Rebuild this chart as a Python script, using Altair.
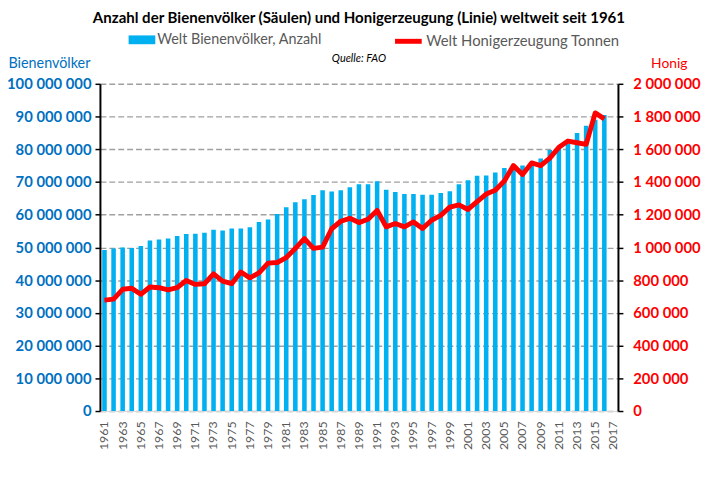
import altair as alt
import pandas as pd

years = list(range(1961, 2017))
all_years = list(range(1961, 2018))
tick_years = list(range(1961, 2018, 2))

colonies_mio = [49.2, 49.7, 50.0, 49.8, 50.4, 52.1, 52.4, 52.7, 53.5, 54.1,
                54.2, 54.5, 55.4, 55.2, 55.8, 55.8, 56.2, 57.8, 58.5, 60.2,
                62.3, 63.8, 64.7, 66.0, 67.5, 67.1, 67.5, 68.4, 69.3, 69.3,
                70.2, 67.6, 66.9, 66.3, 66.3, 66.1, 66.1, 66.6, 67.2, 69.3,
                70.5, 71.9, 72.0, 72.9, 74.3, 74.8, 75.0, 75.8, 77.2, 79.8,
                80.8, 81.8, 85.0, 87.2, 89.0, 90.5]

honey_kt = [678, 684, 744, 750, 714, 758, 754, 740, 754, 798,
            774, 778, 838, 794, 778, 850, 814, 844, 904, 908,
            938, 994, 1054, 994, 1002, 1114, 1160, 1178, 1152, 1172,
            1226, 1126, 1146, 1126, 1156, 1116, 1166, 1196, 1246, 1260,
            1232, 1280, 1326, 1350, 1406, 1500, 1446, 1516, 1500, 1546,
            1612, 1650, 1640, 1630, 1822, 1786]

bar_name = "Welt Bienenvölker, Anzahl"
line_name = "Welt Honigerzeugung Tonnen"

df = pd.DataFrame({
    "year": years,
    "colonies": [v * 1_000_000 for v in colonies_mio],
    "honey": [v * 1000 for v in honey_kt],
    "s1": bar_name,
    "s2": line_name,
})

FONT = "Lato"
BLUE = "#00B0F0"
AXBLUE = "#0070C0"
RED = "#FF0000"
GRAY = "#595959"
space_fmt = "replace(format(datum.value, ',d'), regexp(',', 'g'), ' ')"

x = alt.X("year:O",
          scale=alt.Scale(domain=all_years, paddingInner=0.5, paddingOuter=0.25),
          axis=alt.Axis(values=tick_years, labelAngle=-90, labelColor=GRAY,
                        labelFontSize=12.5, labelFont=FONT, ticks=False,
                        domainColor="#D9D9D9", domainWidth=1, labelPadding=10,
                        title=None, grid=False, labelBaseline="middle", labelAlign="right"))

bars = alt.Chart(df).mark_bar(size=4.6).encode(
    x=x,
    y=alt.Y("colonies:Q",
            scale=alt.Scale(domain=[0, 100_000_000], nice=False),
            axis=alt.Axis(values=[i * 10_000_000 for i in range(11)],
                          labelExpr=space_fmt, labelColor=AXBLUE, labelFont=FONT,
                          labelFontSize=15, labelFontWeight="bold", labelPadding=4,
                          domainColor="black", domainWidth=2, tickColor="black",
                          tickSize=5, tickWidth=1.5,
                          grid=True, gridColor="#A0A0A0", gridDash=[6, 3], gridWidth=1.4,
                          title="Bienenvölker", titleAngle=0, titleAlign="left",
                          titleBaseline="middle", titleX=-93, titleY=-20,
                          titleColor=AXBLUE, titleFont=FONT, titleFontSize=14.5,
                          titleFontWeight="normal")),
    color=alt.Color("s1:N", scale=alt.Scale(domain=[bar_name], range=[BLUE]),
                    legend=alt.Legend(title=None, orient="none", legendX=29, legendY=-58,
                                      symbolType="M-1,-0.33H1V0.33H-1Z", symbolSize=729,
                                      symbolStrokeWidth=0, labelFont=FONT,
                                      labelFontSize=14.5, labelColor=GRAY, padding=0,
                                      labelOffset=2, labelLimit=400,
                                      direction="horizontal")),
)

line = alt.Chart(df).mark_line(strokeWidth=5, strokeJoin="round").encode(
    x=x,
    y=alt.Y("honey:Q",
            scale=alt.Scale(domain=[0, 2_000_000], nice=False),
            axis=alt.Axis(orient="right", values=[i * 200_000 for i in range(11)],
                          labelExpr=space_fmt, labelColor=RED, labelFont=FONT,
                          labelFontSize=15, labelFontWeight="bold", labelPadding=10,
                          domainColor="black", domainWidth=2, tickColor="black",
                          tickSize=5, tickWidth=1.5, grid=False,
                          title="Honig", titleAngle=0, titleAlign="left",
                          titleBaseline="middle", titleX=33, titleY=-20,
                          titleColor=RED, titleFont=FONT, titleFontSize=14,
                          titleFontWeight="normal")),
    stroke=alt.Stroke("s2:N", scale=alt.Scale(domain=[line_name], range=[RED]),
                      legend=alt.Legend(title=None, orient="none", legendX=296, legendY=-59,
                                        symbolType="stroke", symbolSize=729,
                                        symbolStrokeWidth=5, labelFont=FONT,
                                        labelFontSize=15, labelColor=GRAY, padding=0,
                                        labelOffset=2, labelLimit=400,
                                        direction="horizontal")),
)

chart = alt.layer(bars, line).resolve_scale(
    y="independent", color="independent", stroke="independent"
).properties(
    width=524, height=331,
    title=alt.TitleParams(
        text="Anzahl der Bienenvölker (Säulen) und Honigerzeugung (Linie) weltweit seit 1961",
        subtitle="Quelle: FAO",
        font=FONT, fontSize=15.2, fontWeight="bold", color="black", anchor="middle",
        subtitleFont=FONT, subtitleFontSize=11, subtitleFontStyle="italic",
        subtitleColor="black", subtitlePadding=27, offset=-39),
    autosize=alt.AutoSizeParams(type="none"),
    padding={"left": 93, "top": 74, "right": 84, "bottom": 60},
).configure_view(stroke=None)

chart.save("out.html", embed_options={"renderer": "svg", "actions": False})
